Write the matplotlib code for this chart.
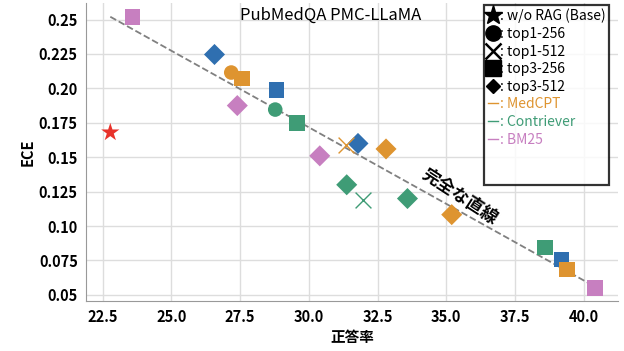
import matplotlib
matplotlib.use("Agg")
import matplotlib.pyplot as plt
from matplotlib.lines import Line2D

plt.rcParams['font.family'] = ['Noto Sans CJK JP', 'DejaVu Sans']

# colours per retriever
colors = {'MedCPT': '#de9430', 'Contriever': '#3f9c76', 'BM25': '#c77fc0', 'Base': '#e8322a', 'Other': '#2f6fb0'}

# points: retriever, marker, accuracy, ece
retriever = ['Base', 'BM25', 'Other', 'MedCPT', 'MedCPT', 'Other', 'BM25', 'Contriever',
             'Contriever', 'Other', 'MedCPT', 'MedCPT', 'BM25', 'Contriever', 'Contriever',
             'Contriever', 'MedCPT', 'Contriever', 'Other', 'MedCPT', 'BM25']
marker = ['*', 's', 'D', 'o', 's', 's', 'D', 'o', 's', 'D', 'x', 'D', 'D', 'D', 'x',
          'D', 'D', 's', 's', 's', 's']
accuracy = [22.78, 23.58, 26.57, 27.18, 27.58, 28.82, 27.40, 28.78, 29.58, 31.79, 31.35,
            32.81, 30.40, 31.38, 31.98, 33.59, 35.20, 38.60, 39.20, 39.39, 40.41]
ece = [0.168, 0.252, 0.2246, 0.2115, 0.207, 0.199, 0.1875, 0.1846, 0.175, 0.160, 0.159,
       0.156, 0.151, 0.130, 0.1192, 0.120, 0.1083, 0.0845, 0.0756, 0.0683, 0.055]

# reference straight line
line_x = [22.78, 40.41]
line_y = [0.252, 0.056]

xticks = [22.5, 25.0, 27.5, 30.0, 32.5, 35.0, 37.5, 40.0]
yticks = [0.05, 0.075, 0.10, 0.125, 0.15, 0.175, 0.20, 0.225, 0.25]
ytick_labels = ['0.05', '0.075', '0.10', '0.125', '0.15', '0.175', '0.20', '0.225', '0.25']

fig = plt.figure(figsize=(6.24, 3.51), dpi=100)
ax = fig.add_axes([0.138, 0.1425, 0.852, 0.849])

ax.grid(True, color='#dddddd', linewidth=1, zorder=0)
ax.set_axisbelow(True)

ax.plot(line_x, line_y, linestyle='--', color='#808080', linewidth=1.3, zorder=1)

sizes = {'x': 130, '*': 190, 'D': 115, 'o': 110, 's': 125}
for r, m, xv, yv in zip(retriever, marker, accuracy, ece):
    c = colors[r]
    if m == 'x':
        ax.scatter(xv, yv, marker='x', s=sizes[m], color=c, linewidths=1.0, zorder=3)
    else:
        ax.scatter(xv, yv, marker=m, s=sizes[m], color=c, edgecolors='none', zorder=3)

ax.text(35.5, 0.1215, '完全な直線', rotation=-33, ha='center', va='center',
        fontsize=12.5, fontweight='bold', zorder=4)
ax.text(0.29, 0.96, 'PubMedQA PMC-LLaMA', transform=ax.transAxes, ha='left', va='center',
        fontsize=12)

ax.set_xlim(21.9, 41.24)
ax.set_ylim(0.0456, 0.262)
ax.set_xticks(xticks)
ax.set_xticklabels([f'{v:.1f}' for v in xticks], fontsize=10.5, fontweight='bold')
ax.set_yticks(yticks)
ax.set_yticklabels(ytick_labels, fontsize=10.5, fontweight='bold')
ax.tick_params(length=0, pad=6)
ax.set_xlabel('正答率', fontsize=10.5, fontweight='bold', labelpad=3)
ax.set_ylabel('ECE', fontsize=10.5, fontweight='bold', labelpad=2)
for s in ['top', 'right']:
    ax.spines[s].set_visible(False)
for s in ['left', 'bottom']:
    ax.spines[s].set_color('#999999')

handles = [
    Line2D([], [], marker='*', color='black', linestyle='none', markersize=14),
    Line2D([], [], marker='o', color='black', linestyle='none', markersize=11),
    Line2D([], [], marker='x', color='black', linestyle='none', markersize=11, markeredgewidth=1.8),
    Line2D([], [], marker='s', color='black', linestyle='none', markersize=11),
    Line2D([], [], marker='D', color='black', linestyle='none', markersize=7.5),
    Line2D([], [], color=colors['MedCPT'], linewidth=1),
    Line2D([], [], color=colors['Contriever'], linewidth=1),
    Line2D([], [], color=colors['BM25'], linewidth=1),
    Line2D([], [], linestyle='none'),
    Line2D([], [], linestyle='none'),
]
labels = [': w/o RAG (Base)', ': top1-256', ': top1-512', ': top3-256', ': top3-512',
          ': MedCPT', ': Contriever', ': BM25', ' ', ' ']
leg = ax.legend(handles, labels, loc='upper left', bbox_to_anchor=(0.749, 0.993),
                fontsize=10, handlelength=0.7, handletextpad=0.15, labelspacing=0.26,
                borderpad=0.25, borderaxespad=0, frameon=True, fancybox=False)
leg.get_frame().set_edgecolor('black')
leg.get_frame().set_linewidth(1.6)
for t, r in zip(leg.get_texts()[5:8], ['MedCPT', 'Contriever', 'BM25']):
    t.set_color(colors[r])

fig.savefig('out.png', dpi=100)
